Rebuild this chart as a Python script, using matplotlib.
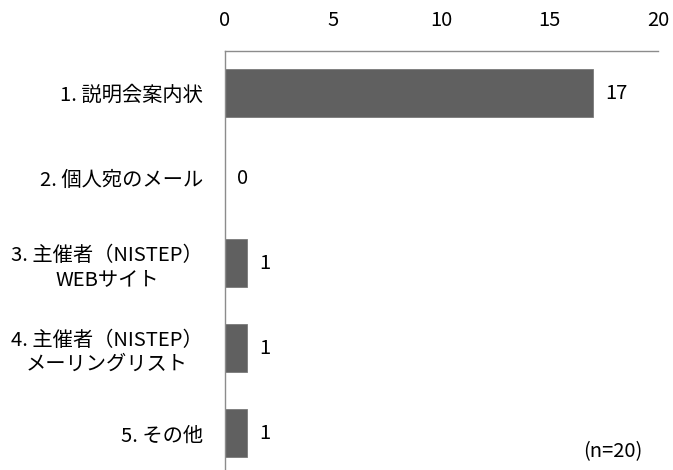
import matplotlib
matplotlib.use("Agg")
import matplotlib.pyplot as plt

plt.rcParams['font.family'] = ['Noto Sans CJK JP', 'DejaVu Sans']

categories = ["1. 説明会案内状", "2. 個人宛のメール", "3. 主催者（NISTEP）\nWEBサイト",
              "4. 主催者（NISTEP）\nメーリングリスト", "5. その他"]
counts = [17, 0, 1, 1, 1]
xticks = [0, 5, 10, 15, 20]
note = "(n=20)"

fig = plt.figure(figsize=(6.73, 4.70), dpi=100)
ax = fig.add_axes([0.3343, 0.0, 0.6434, 0.892])

ypos = list(range(len(categories)))
ax.barh(ypos, counts, height=0.565, color="#606060", edgecolor="#7a7a7a", linewidth=0.6)

ax.set_xlim(0, 20)
ax.set_ylim(4.43, -0.5)
ax.xaxis.tick_top()
ax.set_xticks(xticks)
ax.set_yticks(ypos)
ax.set_yticklabels(categories, multialignment="center", fontsize=14.6, linespacing=1.2)
ax.tick_params(axis="x", length=0, pad=14, labelsize=14.5)
ax.tick_params(axis="y", length=0, pad=16)

for s in ("right", "bottom"):
    ax.spines[s].set_visible(False)
for s in ("top", "left"):
    ax.spines[s].set_color("#8c8c8c")
    ax.spines[s].set_linewidth(1.0)

for y, v in zip(ypos, counts):
    ax.annotate(str(v), xy=(v, y), xytext=(9, 0), textcoords="offset points",
                ha="left", va="center", fontsize=14.5)

ax.text(0.965, 0.045, note, transform=ax.transAxes, ha="right", va="center", fontsize=14.5)

fig.savefig("out.png", dpi=100)
